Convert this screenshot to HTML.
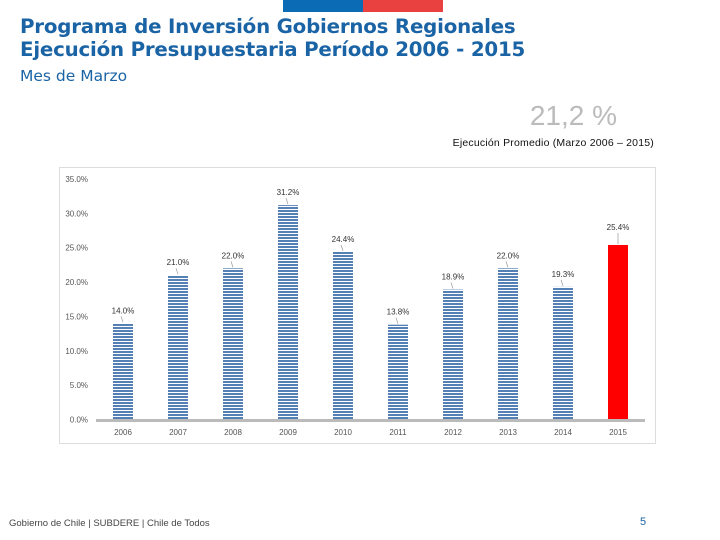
<!DOCTYPE html>
<html><head><meta charset="utf-8"><style>
body{margin:0;width:720px;height:540px;background:#fff;position:relative;overflow:hidden;font-family:"Liberation Sans",sans-serif}
.abs{position:absolute}
</style></head><body>
<div class="abs" style="left:283px;top:0;width:80px;height:12px;background:#0c6bb5"></div>
<div class="abs" style="left:363px;top:0;width:80px;height:12px;background:#e94040"></div>
<div class="abs" style="left:20px;top:15px;font-family:'DejaVu Sans',sans-serif;font-size:19.8px;font-weight:bold;color:#1a63a5;line-height:23px;white-space:nowrap;letter-spacing:-0.2px">Programa de Inversión Gobiernos Regionales<br>Ejecución Presupuestaria Período 2006 - 2015</div>
<div class="abs" style="left:20px;top:67px;font-family:'DejaVu Sans',sans-serif;font-size:15.5px;color:#1a63a5">Mes de Marzo</div>
<div class="abs" style="left:500px;top:100px;width:117px;text-align:right;font-size:28px;color:#bbb">21,2 %</div>
<div class="abs" style="left:430px;top:137px;width:224px;text-align:right;font-size:10.5px;color:#111;letter-spacing:0.2px">Ejecución Promedio (Marzo 2006 – 2015)</div>
<svg class="abs" style="left:0;top:0" width="720" height="540">
<defs><pattern id="st" width="4" height="3" patternUnits="userSpaceOnUse"><rect width="4" height="3" fill="#fff"/><rect width="4" height="2" fill="#5580b5"/></pattern></defs>
<rect x="59.5" y="167.5" width="596" height="276" fill="#fff" stroke="#ddd"/>
<g id="g"></g>
</svg>
<div class="abs" style="left:9px;top:518px;font-size:9.5px;color:#444">Gobierno de Chile | SUBDERE | Chile de Todos</div>
<div class="abs" style="left:640px;top:516px;font-size:11px;color:#1a63a5">5</div>
<script>
const categories=["2006","2007","2008","2009","2010","2011","2012","2013","2014","2015"];
const values=[14.0,21.0,22.0,31.2,24.4,13.8,18.9,22.0,19.3,25.4];
const labels=["14.0%","21.0%","22.0%","31.2%","24.4%","13.8%","18.9%","22.0%","19.3%","25.4%"];
const ticks=[0,5,10,15,20,25,30,35];
const tickLabels=["0.0%","5.0%","10.0%","15.0%","20.0%","25.0%","30.0%","35.0%"];
const NS="http://www.w3.org/2000/svg",g=document.getElementById('g');
const y=v=>419.5-v*240.5/35, x=i=>123+i*55;
function el(t,a){const e=document.createElementNS(NS,t);for(const k in a)e.setAttribute(k,a[k]);g.appendChild(e);return e;}
ticks.forEach((t,i)=>{const e=el('text',{x:88,y:y(t)+3,'text-anchor':'end','font-size':8,fill:'#555'});e.textContent=tickLabels[i];

});
values.forEach((v,i)=>{const r=el('rect',{x:x(i)-10,y:y(v),width:20,height:y(0)-y(v),fill:i==9?'#ff0000':'url(#st)'});


const ly=y(v)-(i==9?12:7);
const l=el('line',{x1:x(i),y1:y(v)-1,x2:x(i)-(i==9?0:2),y2:ly,stroke:'#999','stroke-width':0.7});


const t=el('text',{x:x(i),y:ly-3,'text-anchor':'middle','font-size':8,fill:'#333'});t.textContent=labels[i];


const c=el('text',{x:x(i),y:435,'text-anchor':'middle','font-size':8,fill:'#555'});c.textContent=categories[i];

});
const a=el('line',{x1:96,y1:y(0)+1,x2:645,y2:y(0)+1,stroke:'#bbb','stroke-width':3});


</script>
</body></html>
